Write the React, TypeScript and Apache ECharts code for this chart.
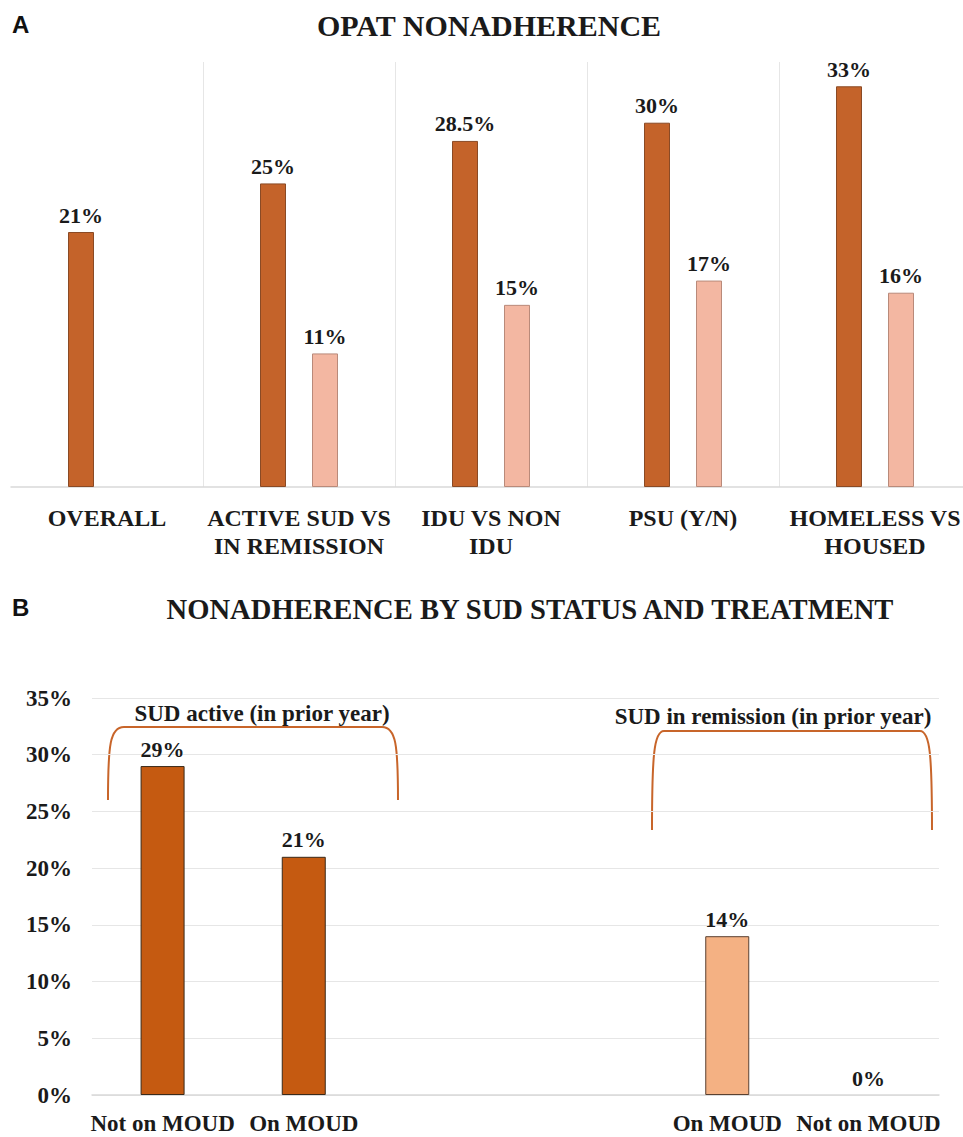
import React, { useEffect, useRef } from "react";
import * as echarts from "echarts";

// Panel A data
const categoriesA = [
  "OVERALL",
  "ACTIVE SUD VS\nIN REMISSION",
  "IDU VS NON\nIDU",
  "PSU (Y/N)",
  "HOMELESS VS\nHOUSED",
];
const primaryA: (number | null)[] = [21, 25, 28.5, 30, 33];
const comparisonA: (number | null)[] = [null, 11, 15, 17, 16];

// Panel B data
const categoriesB = ["Not on MOUD", "On MOUD", "", "", "On MOUD", "Not on MOUD"];
const activeB: (number | null)[] = [29, 21, null, null, null, null];
const remissionB: (number | null)[] = [null, null, null, null, 14, 0];

const titleA = "OPAT NONADHERENCE";
const titleB = "NONADHERENCE BY SUD STATUS AND TREATMENT";
const bracketLabelActive = "SUD active (in prior year)";
const bracketLabelRemission = "SUD in remission (in prior year)";

const SERIF = "Liberation Serif";
const SANS = "Liberation Sans";
const TXT = "#1a1a1a";
const BRACKET = "#C8652A";

export default function App() {
  const ref = useRef<HTMLDivElement>(null);
  useEffect(() => {
    if (!ref.current) return;
    const chart = echarts.init(ref.current, null, { renderer: "svg" });
    const pct = (p: any) => (p.value == null ? "" : `${p.value}%`);
    const dataLabel = {
      show: true,
      position: "top",
      distance: 6,
      formatter: pct,
      fontFamily: SERIF,
      fontWeight: "bold",
      fontSize: 22,
      color: TXT,
    };
    const noZeroBorder = (arr: (number | null)[]) =>
      arr.map((v) => (v === 0 ? { value: v, itemStyle: { borderWidth: 0 } } : v));
    chart.setOption({
      animation: false,
      backgroundColor: "#ffffff",
      grid: [
        { left: 11, top: 62, width: 960, height: 425 },
        { left: 92, top: 698, width: 847, height: 400 },
      ],
      xAxis: [
        {
          type: "category",
          gridIndex: 0,
          data: categoriesA,
          axisLine: { show: true, lineStyle: { color: "#d9d9d9", width: 1.5 } },
          axisTick: { show: false },
          splitLine: {
            show: true,
            interval: (i: number) => i > 0,
            lineStyle: { color: "#e6e6e6", width: 1 },
          },
          axisLabel: {
            interval: 0,
            margin: 17,
            fontFamily: SERIF,
            fontWeight: "bold",
            fontSize: 24,
            lineHeight: 28,
            color: TXT,
          },
        },
        {
          type: "category",
          gridIndex: 1,
          data: categoriesB,
          axisLine: { show: true, lineStyle: { color: "#d9d9d9", width: 1.5 } },
          axisTick: { show: false },
          axisLabel: {
            interval: 0,
            margin: 14,
            fontFamily: SERIF,
            fontWeight: "bold",
            fontSize: 23,
            lineHeight: 28,
            color: TXT,
          },
        },
      ],
      yAxis: [
        { type: "value", gridIndex: 0, min: 0, max: 35, show: false },
        {
          type: "value",
          gridIndex: 1,
          min: 0,
          max: 35,
          interval: 5,
          axisLine: { show: false },
          axisTick: { show: false },
          splitLine: { show: true, lineStyle: { color: "#e6e6e6", width: 1 } },
          axisLabel: {
            margin: 20,
            formatter: "{value}%",
            fontFamily: SERIF,
            fontWeight: "bold",
            fontSize: 23,
            color: TXT,
          },
        },
      ],
      series: [
        {
          type: "bar",
          xAxisIndex: 0,
          yAxisIndex: 0,
          data: primaryA,
          barWidth: 26,
          barGap: "100%",
          itemStyle: { color: "#C4632A", borderColor: "#8a4a25", borderWidth: 1 },
          label: dataLabel,
        },
        {
          type: "bar",
          xAxisIndex: 0,
          yAxisIndex: 0,
          data: comparisonA,
          barWidth: 26,
          barGap: "100%",
          itemStyle: { color: "#F3B7A2", borderColor: "#b98a7a", borderWidth: 1 },
          label: dataLabel,
        },
        {
          type: "bar",
          xAxisIndex: 1,
          yAxisIndex: 1,
          data: noZeroBorder(activeB),
          barWidth: 44,
          barGap: "-100%",
          itemStyle: { color: "#C55A11", borderColor: "#3a2a1a", borderWidth: 1 },
          label: dataLabel,
        },
        {
          type: "bar",
          xAxisIndex: 1,
          yAxisIndex: 1,
          data: noZeroBorder(remissionB),
          barWidth: 44,
          barGap: "-100%",
          itemStyle: { color: "#F4B183", borderColor: "#5a4030", borderWidth: 1 },
          label: dataLabel,
        },
      ],
      graphic: [
        {
          type: "text",
          left: 12,
          top: 12,
          style: { text: "A", fontFamily: SANS, fontWeight: "bold", fontSize: 24, fill: "#111" },
        },
        {
          type: "text",
          left: 12,
          top: 595,
          style: { text: "B", fontFamily: SANS, fontWeight: "bold", fontSize: 24, fill: "#111" },
        },
        {
          type: "text",
          x: 489,
          y: 25,
          style: { text: titleA, fontFamily: SERIF, fontWeight: "bold", fontSize: 30, fill: TXT, align: "center", verticalAlign: "middle" },
        },
        {
          type: "text",
          x: 530,
          y: 609,
          style: { text: titleB, fontFamily: SERIF, fontWeight: "bold", fontSize: 28.6, fill: TXT, align: "center", verticalAlign: "middle" },
        },
        {
          type: "text",
          x: 262,
          y: 713,
          style: { text: bracketLabelActive, fontFamily: SERIF, fontWeight: "bold", fontSize: 23, fill: TXT, align: "center", verticalAlign: "middle" },
        },
        {
          type: "text",
          x: 773,
          y: 716,
          style: { text: bracketLabelRemission, fontFamily: SERIF, fontWeight: "bold", fontSize: 23, fill: TXT, align: "center", verticalAlign: "middle" },
        },
        // left bracket
        {
          type: "bezierCurve",
          shape: { x1: 108, y1: 800, cpx1: 108, cpy1: 745, cpx2: 110, cpy2: 727, x2: 124, y2: 727 },
          style: { stroke: BRACKET, lineWidth: 2, fill: "none" },
        },
        {
          type: "line",
          shape: { x1: 124, y1: 727, x2: 382, y2: 727 },
          style: { stroke: BRACKET, lineWidth: 2 },
        },
        {
          type: "bezierCurve",
          shape: { x1: 382, y1: 727, cpx1: 396, cpy1: 727, cpx2: 398, cpy2: 745, x2: 398, y2: 800 },
          style: { stroke: BRACKET, lineWidth: 2, fill: "none" },
        },
        // right bracket
        {
          type: "bezierCurve",
          shape: { x1: 652, y1: 830, cpx1: 652, cpy1: 755, cpx2: 654, cpy2: 731, x2: 664, y2: 731 },
          style: { stroke: BRACKET, lineWidth: 2, fill: "none" },
        },
        {
          type: "line",
          shape: { x1: 664, y1: 731, x2: 920, y2: 731 },
          style: { stroke: BRACKET, lineWidth: 2 },
        },
        {
          type: "bezierCurve",
          shape: { x1: 920, y1: 731, cpx1: 930, cpy1: 731, cpx2: 932, cpy2: 755, x2: 932, y2: 830 },
          style: { stroke: BRACKET, lineWidth: 2, fill: "none" },
        },
      ],
    });
    return () => chart.dispose();
  }, []);
  return (
    <div
      style={{ position: "absolute", left: 0, top: 0, width: 963, height: 1137, overflow: "hidden", background: "#fff" }}
    >
      <div ref={ref} style={{ width: 980, height: 1137 }} />
    </div>
  );
}
